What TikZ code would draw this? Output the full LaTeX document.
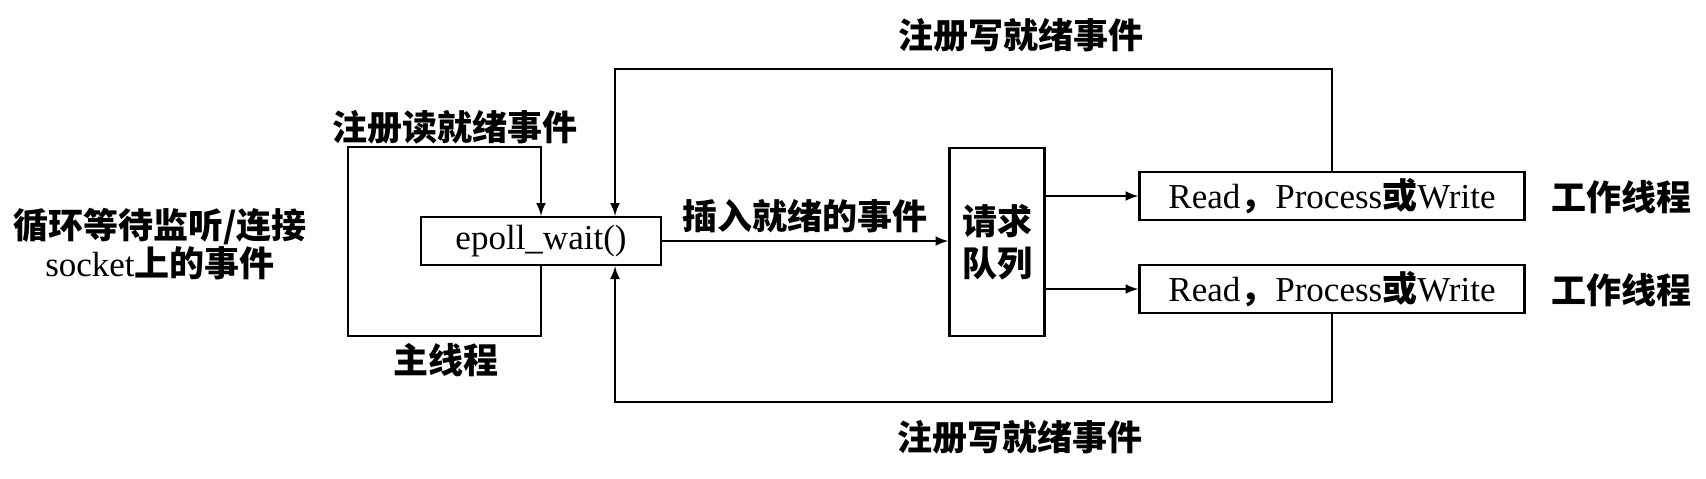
\documentclass[tikz,border=0pt]{standalone}
\usepackage{fontspec}
\setmainfont{Liberation Serif}
\newfontfamily\cjk{Noto Sans CJK SC}
\newcommand{\zh}[1]{{\cjk\bfseries #1}}
\begin{document}
\begin{tikzpicture}[x=0.5pt,y=-0.5pt,>=latex,line width=1.2pt,
  font=\fontsize{17.5}{21}\selectfont,
  kasten/.style={draw,inner sep=0pt,minimum height=24pt},
  txt/.style={font=\fontsize{17.5}{21}\selectfont\cjk\bfseries}]
  \useasboundingbox (0,0) rectangle (1706,478);
  % Knoten
  \node[kasten,minimum width=120pt] (ew) at (541,241) {epoll\_wait()};
  \node[kasten,minimum width=47.5pt,minimum height=94pt,align=center] (queue) at (997,242) {\zh{请求}\\\zh{队列}};
  \node[kasten,minimum width=192.5pt] (w1) at (1332,196) {Read\zh{，}Process\zh{或}Write};
  \node[kasten,minimum width=192.5pt] (w2) at (1332,289) {Read\zh{，}Process\zh{或}Write};
  \node[txt] (a1) at (1621,197) {工作线程};
  \node[txt] (a2) at (1621,290) {工作线程};
  \node[txt] (lesen) at (455,127) {注册读就绪事件};
  \node[txt] (main) at (446,360) {主线程};
  \node[txt] (schreibo) at (1021,35) {注册写就绪事件};
  \node[txt] (schreibu) at (1020,437) {注册写就绪事件};
  \node[align=center,font=\fontsize{17.5}{19}\selectfont] (links) at (160,244) {\zh{循环等待监听/连接}\\socket\zh{上的事件}};
  \coordinate (lu) at (348,336);
  \coordinate (lo) at (348,147);
  \coordinate (wo) at (615,69);
  \coordinate (wu) at (615,402);

  % Pfeile
  \draw[->] (ew.south) |- (lu) -- (lo) -| (ew.north);
  \draw[->] (ew.east) -- (ew.east -| queue.west) node[midway,above,txt] {插入就绪的事件};
  \draw[->] (queue.east |- w1) -- (w1.west);
  \draw[->] (queue.east |- w2) -- (w2.west);
  \draw[->] (w1.north) |- (wo) -- (ew.north -| wo);
  \draw[->] (w2.south) |- (wu) -- (ew.south -| wu);
\end{tikzpicture}
\end{document}
